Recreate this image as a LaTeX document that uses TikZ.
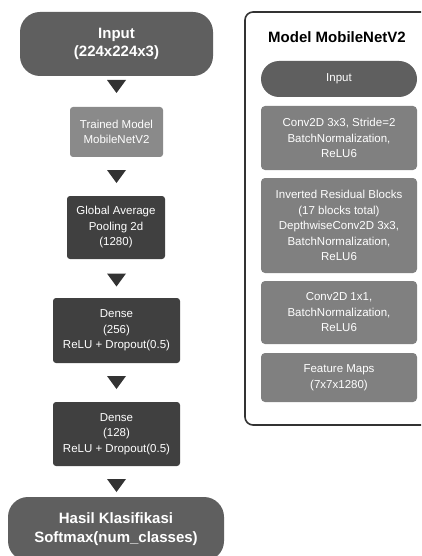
\documentclass[tikz,border=0pt]{standalone}
\usepackage{fontspec}
\setmainfont{Liberation Sans}
\definecolor{darkbox}{HTML}{404040}
\definecolor{pillbox}{HTML}{5F5F5F}
\definecolor{lightbox}{HTML}{8A8A8A}
\definecolor{panelbox}{HTML}{808080}
\definecolor{trigray}{HTML}{333333}
\tikzset{
  base/.style={text=white, align=center, inner sep=0pt, font=\fontsize{11.5}{15.5}\selectfont},
  bigpill/.style={base, fill=pillbox, rounded corners=20pt, font=\bfseries\fontsize{15}{18.5}\selectfont},
  lightnode/.style={base, fill=lightbox, rounded corners=3pt},
  darknode/.style={base, fill=darkbox, rounded corners=3pt},
  smallpill/.style={base, fill=pillbox, rounded corners=18pt, minimum width=156pt, minimum height=36pt},
  panelnode/.style={base, fill=panelbox, rounded corners=4pt, minimum width=156pt},
  tri/.style={fill=trigray}
}
\newcommand{\downtri}[1]{\fill[tri] ($(#1)+(-9.5,-6.5)$) -- ($(#1)+(9.5,-6.5)$) -- ($(#1)+(0,6.5)$) -- cycle;}
\usetikzlibrary{calc}
\begin{document}
\begin{tikzpicture}[x=1pt,y=-1pt]
\clip (0,0) rectangle (421,556);
\fill[white] (0,0) rectangle (421,556);

% left column
\node[bigpill, minimum width=193pt, minimum height=64pt] (in) at (116.5,44) {Input\\(224x224x3)};
\node[lightnode, minimum width=93pt, minimum height=50pt] (tm) at (116.5,132) {Trained Model\\MobileNetV2};
\node[darknode, minimum width=98pt, minimum height=63pt] (gap) at (116,227.5) {Global Average\\Pooling 2d\\(1280)};
\node[darknode, minimum width=127pt, minimum height=65pt] (d1) at (116.5,330.5) {Dense\\(256)\\ReLU + Dropout(0.5)};
\node[darknode, minimum width=127pt, minimum height=64pt] (d2) at (116.5,434) {Dense\\(128)\\ReLU + Dropout(0.5)};
\node[bigpill, minimum width=216pt, minimum height=64pt] (out) at (116,529) {Hasil Klasifikasi\\Softmax(num\_classes)};

\coordinate (t1) at (116.5,86.5);
\coordinate (t2) at (116.5,176.5);
\coordinate (t3) at (116.5,280);
\coordinate (t4) at (116.5,382.5);
\coordinate (t5) at (116.5,485.5);
\downtri{t1}
\downtri{t2}
\downtri{t3}
\downtri{t4}
\downtri{t5}

% right panel
\draw[trigray, line width=1.6pt, rounded corners=8pt] (245,12) rectangle (440,425);
\node[font=\bfseries\fontsize{15}{18}\selectfont, text=black, inner sep=0pt] (title) at (337,37) {Model MobileNetV2};
\node[smallpill] (rin) at (339,79) {Input};
\node[panelnode, minimum height=64pt] (c1) at (339,138) {Conv2D 3x3, Stride=2\\BatchNormalization,\\ReLU6};
\node[panelnode, minimum height=95pt] (inv) at (339,225.5) {Inverted Residual Blocks\\(17 blocks total)\\DepthwiseConv2D 3x3,\\BatchNormalization,\\ReLU6};
\node[panelnode, minimum height=63pt] (c2) at (339,312.5) {Conv2D 1x1,\\BatchNormalization,\\ReLU6};
\node[panelnode, minimum height=49pt] (fm) at (339,377.5) {Feature Maps\\(7x7x1280)};
\end{tikzpicture}
\end{document}
